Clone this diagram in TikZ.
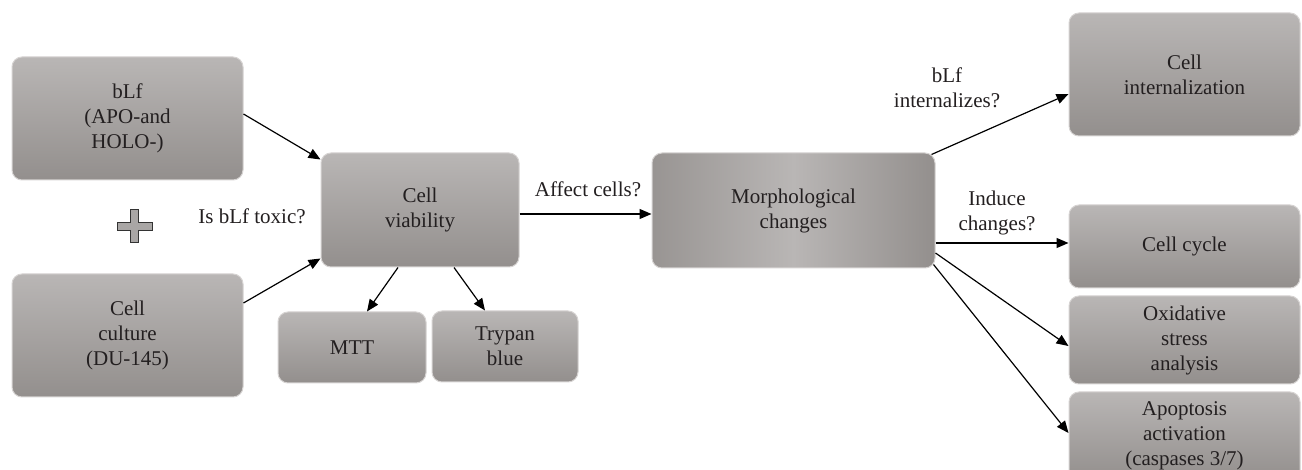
\documentclass[tikz,border=0pt]{standalone}
\usepackage{fontspec}
\setmainfont{Liberation Serif}
\usetikzlibrary{arrows.meta,calc}
\definecolor{boxtop}{HTML}{B9B6B5}
\definecolor{boxbot}{HTML}{938F8D}
\definecolor{boxedge}{HTML}{D6D3D2}
\definecolor{txt}{HTML}{231F20}
\definecolor{plusfill}{HTML}{A9A6A5}
\definecolor{plusedge}{HTML}{333333}
\begin{document}
\begin{tikzpicture}[x=1pt,y=-1pt,
  box/.style={rectangle,rounded corners=10pt,draw=boxedge,line width=1pt,
    top color=boxtop,bottom color=boxbot,inner sep=0pt,align=center,
    text=txt,font=\fontsize{21}{25}\selectfont},
  hbox/.style={rectangle,rounded corners=10pt,draw=boxedge,line width=1pt,
    left color=boxbot!95!white,right color=boxbot,middle color=boxtop,inner sep=0pt,align=center,
    text=txt,font=\fontsize{21}{25}\selectfont},
  lbl/.style={align=center,text=txt,inner sep=0pt,font=\fontsize{21}{25}\selectfont},
  arr/.style={-{Triangle[length=12pt,width=10pt]},line width=1.2pt,black}]
\useasboundingbox (0,0) rectangle (1302,470);
\fill[white] (0,0) rectangle (1302,470);

\node[box,minimum width=231pt,minimum height=123pt] (blf) at (127.5,118.5) {bLf\\(APO-and\\HOLO-)};
\node[box,minimum width=231pt,minimum height=123pt] (cult) at (127.5,335.5) {Cell\\culture\\(DU-145)};
\node[box,minimum width=198pt,minimum height=114pt] (via) at (420,210) {Cell\\viability};
\node[box,minimum width=148pt,minimum height=71pt] (mtt) at (352,347.5) {MTT};
\node[box,minimum width=146pt,minimum height=71pt] (tryp) at (505,346.5) {Trypan\\blue};
\node[hbox,minimum width=283pt,minimum height=115pt] (morph) at (793.5,210.5) {Morphological\\changes};
\node[box,minimum width=231pt,minimum height=123pt] (intl) at (1184.5,74.5) {Cell\\internalization};
\node[box,minimum width=231pt,minimum height=83pt] (cyc) at (1184.5,246.5) {Cell cycle};
\node[box,minimum width=231pt,minimum height=88pt] (oxi) at (1184.5,340) {Oxidative\\stress\\analysis};
\node[box,minimum width=231pt,minimum height=88pt] (apo) at (1184.5,436) {Apoptosis\\activation\\(caspases 3/7)};

\node[lbl] (ltox) at (252,216) {Is bLf toxic?};
\node[lbl] (laff) at (588,189) {Affect cells?};
\node[lbl] (lint) at (947,88) {bLf\\internalizes?};
\node[lbl] (lind) at (997,213) {Induce\\changes?};

\draw[fill=plusfill,draw=plusedge,line width=1pt]
  (130.5,210) -- (138.5,210) -- (138.5,222.5) -- (152,222.5) -- (152,230.5)
  -- (138.5,230.5) -- (138.5,243) -- (130.5,243) -- (130.5,230.5) -- (117,230.5)
  -- (117,222.5) -- (130.5,222.5) -- cycle;

\draw[arr] ($(blf.east)+(0,-4.5)$) -- ($(via.north west)+(0,7)$);
\draw[arr] ($(cult.east)+(0,-32.5)$) -- ($(via.south west)+(0,-9)$);
\draw[arr] ($(via.south)+(-22,0)$) -- ($(mtt.north)+(15,0)$);
\draw[arr] ($(via.south)+(34,0)$) -- ($(tryp.north)+(-20,0)$);
\draw[arr] ($(via.east)+(0,4)$) -- ($(morph.west)+(0,3.5)$);
\draw[arr] ($(morph.north east)+(-4,2)$) -- ($(intl.west)+(0,19.5)$);
\draw[arr] ($(morph.east)+(0,32.5)$) -- ($(cyc.west)+(0,-3.5)$);
\draw[arr] ($(morph.east)+(0,42.5)$) -- ($(oxi.west)+(0,6)$);
\draw[arr] ($(morph.south east)+(-2,-4)$) -- ($(apo.west)+(0,-3)$);
\end{tikzpicture}
\end{document}
